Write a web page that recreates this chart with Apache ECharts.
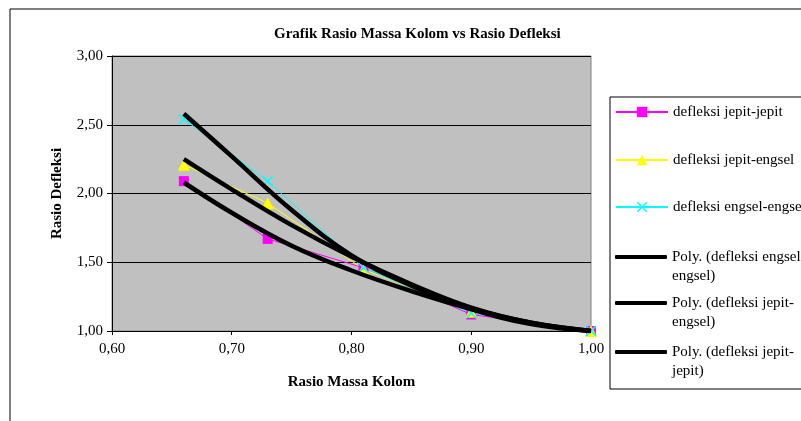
<!DOCTYPE html>
<html>
<head>
<meta charset="utf-8">
<script src="https://cdn.jsdelivr.net/npm/echarts@6/dist/echarts.min.js"></script>
<style>
html,body{margin:0;padding:0;background:#fff;}
#chart{width:801px;height:421px;}
</style>
</head>
<body>
<div id="chart"></div>
<script>
// Data
const massRatio = [0.66, 0.73, 0.81, 0.90, 1.00];
const jepitJepit = [2.09, 1.67, 1.46, 1.12, 1.00];
const jepitEngsel = [2.21, 1.93, 1.45, 1.14, 1.00];
const engselEngsel = [2.54, 2.09, 1.46, 1.13, 1.00];

const trendX = [0.66, 0.70, 0.75, 0.80, 0.85, 0.90, 0.95, 1.00];
const polyEngselEngsel = [2.58, 2.27, 1.88, 1.55, 1.33, 1.16, 1.05, 1.00];
const polyJepitEngsel = [2.25, 2.03, 1.77, 1.54, 1.34, 1.17, 1.06, 1.00];
const polyJepitJepit = [2.08, 1.86, 1.62, 1.44, 1.29, 1.16, 1.06, 1.00];

const xTicks = [0.60, 0.70, 0.80, 0.90, 1.00];
const yTicks = [1.00, 1.50, 2.00, 2.50, 3.00];

const seriesNames = [
  'defleksi jepit-jepit',
  'defleksi jepit-engsel',
  'defleksi engsel-engsel',
  'Poly. (defleksi engsel-engsel)',
  'Poly. (defleksi jepit-engsel)',
  'Poly. (defleksi jepit-jepit)'
];
const legendLabels = [
  'defleksi jepit-jepit',
  'defleksi jepit-engsel',
  'defleksi engsel-engsel',
  '\nPoly. (defleksi engsel-\nengsel)',
  '\nPoly. (defleksi jepit-\nengsel)',
  '\nPoly. (defleksi jepit-\njepit)'
];

const FONT = '"Liberation Serif", "Times New Roman", serif';
const pair = (xs, ys) => xs.map((x, i) => [x, ys[i]]);
const fmt = v => v.toFixed(2).replace('.', ',');

const xSymbol = 'path://M0,1 L1,0 L5,4 L9,0 L10,1 L6,5 L10,9 L9,10 L5,6 L1,10 L0,9 L4,5 Z';

const legendCenters = [112, 160, 207, 257, 303, 352];
const legends = seriesNames.map((name, i) => {
  const multi = i >= 3;
  return {
    data: multi ? [{ name: name, icon: 'roundRect' }] : [name],
    orient: 'vertical',
    left: 615,
    top: multi ? legendCenters[i] - 28.5 : legendCenters[i] - 9.5,
    padding: 0,
    itemWidth: 52,
    itemHeight: multi ? 4 : 13,
    selectedMode: false,
    formatter: () => legendLabels[i],
    textStyle: { fontFamily: FONT, fontSize: 15, color: '#000', lineHeight: 19 }
  };
});

const chart = echarts.init(document.getElementById('chart'));
chart.setOption({
  animation: false,
  backgroundColor: '#fff',
  title: {
    text: 'Grafik Rasio Massa Kolom vs Rasio Defleksi',
    left: 269, top: 22,
    textStyle: { fontFamily: FONT, fontSize: 15, fontWeight: 'bold', color: '#000' }
  },
  graphic: [
    { type: 'rect', shape: { x: 10, y: 9, width: 900, height: 600 },
      style: { fill: 'none', stroke: '#000', lineWidth: 1 }, z: -10 },
    { type: 'rect', shape: { x: 610, y: 97, width: 300, height: 292 },
      style: { fill: '#fff', stroke: '#000', lineWidth: 1 }, z: -5 }
  ],
  legend: legends,
  grid: {
    left: 112, top: 56, right: 210, bottom: 90,
    show: true, backgroundColor: '#C0C0C0', borderColor: '#808080', borderWidth: 1
  },
  xAxis: {
    type: 'value', min: xTicks[0], max: xTicks[xTicks.length - 1], interval: 0.1,
    name: 'Rasio Massa Kolom', nameLocation: 'middle', nameGap: 44,
    nameTextStyle: { fontFamily: FONT, fontSize: 15, fontWeight: 'bold', color: '#000' },
    axisLine: { lineStyle: { color: '#000', width: 1 } },
    axisTick: { show: true, length: 4, lineStyle: { color: '#000' } },
    axisLabel: { fontFamily: FONT, fontSize: 15, color: '#000', margin: 11, formatter: fmt },
    splitLine: { show: false }
  },
  yAxis: {
    type: 'value', min: yTicks[0], max: yTicks[yTicks.length - 1], interval: 0.5,
    name: 'Rasio Defleksi', nameLocation: 'middle', nameGap: 47, nameRotate: 90,
    nameTextStyle: { fontFamily: FONT, fontSize: 15, fontWeight: 'bold', color: '#000' },
    axisLine: { show: true, lineStyle: { color: '#000', width: 1 } },
    axisTick: { show: true, length: 5, lineStyle: { color: '#000' } },
    axisLabel: { fontFamily: FONT, fontSize: 15, color: '#000', margin: 9, formatter: fmt },
    splitLine: { show: true, lineStyle: { color: '#000', width: 1 } }
  },
  series: [
    { name: seriesNames[0], type: 'line', data: pair(massRatio, jepitJepit),
      symbol: 'rect', symbolSize: 10,
      lineStyle: { color: '#FF00FF', width: 1 }, itemStyle: { color: '#FF00FF' }, z: 2 },
    { name: seriesNames[1], type: 'line', data: pair(massRatio, jepitEngsel),
      symbol: 'triangle', symbolSize: 12,
      lineStyle: { color: '#FFFF00', width: 1 }, itemStyle: { color: '#FFFF00' }, z: 2 },
    { name: seriesNames[2], type: 'line', data: pair(massRatio, engselEngsel),
      symbol: xSymbol, symbolSize: 11,
      lineStyle: { color: '#00FFFF', width: 1 }, itemStyle: { color: '#00FFFF' }, z: 2 },
    { name: seriesNames[3], type: 'line', data: pair(trendX, polyEngselEngsel),
      symbol: 'none', smooth: 0.4,
      lineStyle: { color: '#000', width: 4.5 }, itemStyle: { color: '#000' }, z: 3 },
    { name: seriesNames[4], type: 'line', data: pair(trendX, polyJepitEngsel),
      symbol: 'none', smooth: 0.4,
      lineStyle: { color: '#000', width: 4.5 }, itemStyle: { color: '#000' }, z: 3 },
    { name: seriesNames[5], type: 'line', data: pair(trendX, polyJepitJepit),
      symbol: 'none', smooth: 0.4,
      lineStyle: { color: '#000', width: 4.5 }, itemStyle: { color: '#000' }, z: 3 }
  ]
});
</script>
</body>
</html>
